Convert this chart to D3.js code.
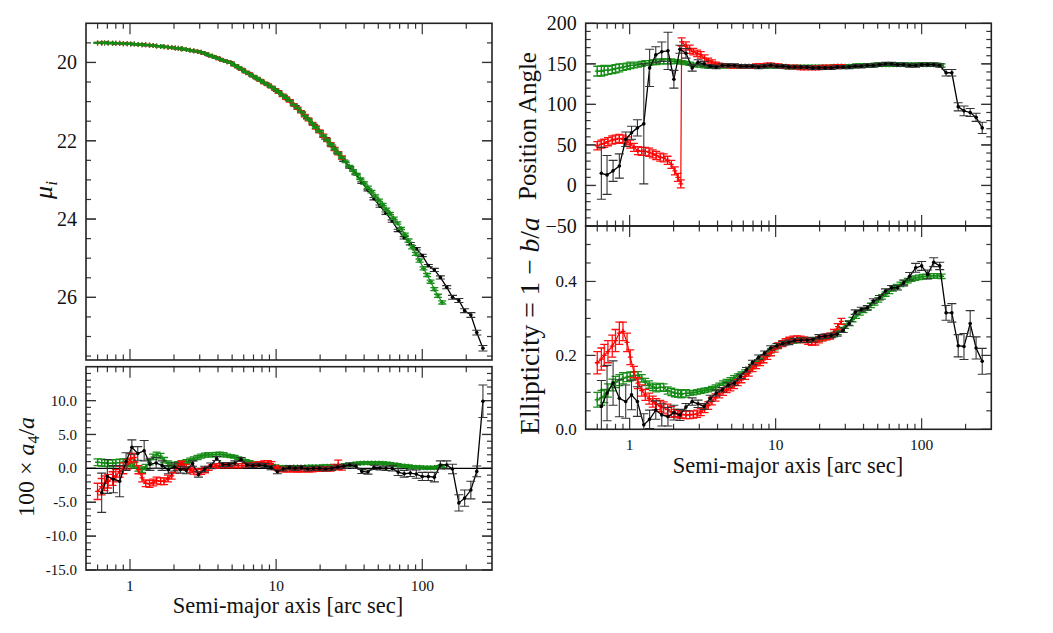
<!DOCTYPE html>
<html>
  <head>
    <meta charset="UTF-8" />
    <style>
      body { margin: 0; background: #fff; }
      svg text { font-family: "Liberation Serif", "Times New Roman", Times, "DejaVu Serif", serif; fill: #111; }
    </style>
  </head>
  <body>
    <svg width="1053" height="633" font-family="Liberation Serif, Times New Roman, serif"></svg>
    <script src="https://d3js.org/d3.v7.min.js"></script>
    <script>
      // radii (arc sec) of the densely sampled profiles (red, green)
      const fineRadii = [0.60,0.64,0.67,0.71,0.76,0.80,0.85,0.90,0.96,1.01,
        1.07,1.14,1.21,1.28,1.36,1.44,1.52,1.62,1.71,1.82,
        1.93,2.04,2.14,2.24,2.27,2.43,2.58,2.73,2.90,3.07,
        3.26,3.45,3.66,3.88,4.11,4.36,4.62,4.90,5.19,5.50,
        5.83,6.18,6.55,6.95,7.36,7.81,8.27,8.77,9.30,9.86,
        10.4,11.1,11.7,12.4,13.2,14.0,14.8,15.7,16.7,17.7,
        18.7,19.8,21.0,22.3,23.6,25.1,26.6,28.2,29.9,31.7,
        33.6,35.6,37.7,40.0,42.4,44.9,47.6,50.5,53.5,56.7,
        60.1,63.7,67.5,71.6,75.9,80.4,85.3,90.4,95.8,102,
        108,114,121,128,137];
      // radii of the black profile
      const blackRadii = [0.64,0.70,0.77,0.85,0.94,1.03,1.13,1.25,1.37,1.51,
        1.66,1.83,2.01,2.21,2.43,2.68,2.94,3.24,3.56,3.92,
        4.31,4.74,5.22,5.74,6.31,6.94,7.64,8.40,9.24,10.2,
        11.2,12.3,13.5,14.9,16.4,18.0,19.8,21.8,24.0,26.4,
        29.0,31.9,35.1,38.6,42.5,46.7,51.4,56.5,62.2,68.4,
        75.2,82.8,91.0,100,110,121,133,147,161,178,
        195,215,236,260];

      // surface brightness mu_i
      const muRed = [19.50,19.50,19.50,19.50,19.51,19.51,19.51,19.52,19.52,19.53,
        19.53,19.54,19.55,19.55,19.56,19.57,19.58,19.59,19.60,19.61,
        19.62,19.63,19.64,19.65,19.65,19.67,19.69,19.70,19.72,19.74,
        19.77,19.81,19.84,19.88,19.91,19.95,19.98,20.01,20.07,20.12,
        20.18,20.24,20.29,20.35,20.40,20.46,20.52,20.57,20.63,20.69,
        20.76,20.84,20.91,20.98,21.08,21.17,21.26,21.36,21.46,21.56,
        21.66,21.76,21.87,21.98,22.09,22.21,22.32,22.43];
      const muRedErr = [0.01,0.01,0.01,0.01,0.01,0.01,0.01,0.01,0.01,0.01,
        0.01,0.01,0.01,0.01,0.01,0.01,0.01,0.01,0.01,0.01,
        0.01,0.01,0.01,0.01,0.01,0.01,0.01,0.01,0.01,0.01,
        0.015,0.015,0.015,0.015,0.015,0.015,0.015,0.015,0.015,0.015,
        0.02,0.02,0.02,0.02,0.02,0.02,0.02,0.02,0.02,0.02,
        0.03,0.03,0.03,0.03,0.03,0.03,0.03,0.03,0.03,0.03,
        0.04,0.04,0.04,0.04,0.04,0.04,0.04,0.04];
      const muGreen = [19.50,19.50,19.50,19.50,19.51,19.51,19.51,19.52,19.52,19.53,
        19.53,19.54,19.55,19.55,19.56,19.57,19.58,19.59,19.60,19.61,
        19.62,19.63,19.64,19.65,19.65,19.67,19.69,19.70,19.72,19.74,
        19.77,19.81,19.84,19.88,19.91,19.95,19.98,20.01,20.07,20.12,
        20.18,20.24,20.29,20.35,20.40,20.46,20.52,20.57,20.63,20.69,
        20.76,20.84,20.91,20.98,21.08,21.17,21.26,21.36,21.46,21.56,
        21.66,21.76,21.87,21.98,22.09,22.21,22.32,22.43,22.54,22.65,
        22.76,22.86,22.97,23.08,23.19,23.30,23.41,23.52,23.63,23.75,
        23.86,23.98,24.10,24.24,24.39,24.55,24.72,24.89,25.06,25.26,
        25.43,25.60,25.79,25.96,26.13];
      const muGreenErr = [0.01,0.01,0.01,0.01,0.01,0.01,0.01,0.01,0.01,0.01,
        0.01,0.01,0.01,0.01,0.01,0.01,0.01,0.01,0.01,0.01,
        0.01,0.01,0.01,0.01,0.01,0.01,0.01,0.01,0.01,0.01,
        0.01,0.01,0.01,0.01,0.01,0.01,0.01,0.01,0.01,0.01,
        0.01,0.01,0.01,0.01,0.01,0.01,0.01,0.01,0.01,0.01,
        0.01,0.01,0.01,0.01,0.01,0.01,0.01,0.01,0.01,0.01,
        0.02,0.02,0.02,0.02,0.02,0.02,0.02,0.02,0.02,0.02,
        0.02,0.02,0.02,0.03,0.03,0.03,0.03,0.03,0.03,0.03,
        0.03,0.03,0.03,0.03,0.03,0.04,0.04,0.04,0.04,0.04,
        0.04,0.04,0.04,0.04,0.04];
      const muBlack = [19.50,19.50,19.51,19.51,19.52,19.53,19.54,19.55,19.56,19.58,
        19.59,19.61,19.63,19.65,19.67,19.70,19.73,19.77,19.83,19.88,
        19.94,19.99,20.07,20.16,20.26,20.35,20.44,20.53,20.62,20.73,
        20.85,20.97,21.11,21.27,21.43,21.59,21.76,21.94,22.13,22.31,
        22.51,22.68,22.85,23.07,23.26,23.48,23.67,23.85,24.05,24.29,
        24.48,24.63,24.76,24.93,25.19,25.30,25.49,25.74,26.00,26.08,
        26.34,26.45,26.90,27.30];
      const muBlackErr = [0.01,0.01,0.01,0.01,0.01,0.01,0.01,0.01,0.01,0.01,
        0.01,0.01,0.01,0.01,0.01,0.01,0.01,0.01,0.01,0.01,
        0.01,0.01,0.01,0.01,0.01,0.01,0.01,0.01,0.01,0.01,
        0.01,0.01,0.01,0.01,0.01,0.01,0.02,0.02,0.02,0.02,
        0.02,0.02,0.02,0.02,0.02,0.03,0.03,0.03,0.03,0.03,
        0.03,0.03,0.03,0.03,0.03,0.04,0.04,0.04,0.05,0.05,
        0.05,0.06,0.06,0.07];

      // 100 x a4/a
      const a4Red = [-3.4,-2.7,-2.2,-1.9,-1.5,-1.1,-0.5,0.0,0.6,1.5,
        1.6,-0.2,-1.4,-2.2,-2.3,-2.1,-1.8,-1.9,-1.9,-1.5,
        -1.1,-0.3,0.3,0.6,0.65,0.2,-0.2,-0.45,-0.55,-0.5,
        -0.25,0.0,0.25,0.35,0.4,0.4,0.4,0.4,0.4,0.4,
        0.4,0.45,0.5,0.5,0.6,0.7,0.8,0.85,0.7,0.1,
        -0.1,-0.2,-0.2,-0.2,-0.2,-0.25,-0.2,-0.2,-0.2,-0.2,
        -0.15,-0.15,-0.1,-0.05,-0.1,0.2,0.5,0.15];
      const a4RedErr = [1.2,1.2,1.1,1.0,1.0,0.9,0.8,0.8,0.7,0.7,
        0.6,0.6,0.6,0.5,0.5,0.5,0.5,0.5,0.5,0.5,
        0.5,0.4,0.4,0.4,0.4,0.4,0.4,0.4,0.4,0.4,
        0.4,0.3,0.3,0.3,0.3,0.3,0.3,0.3,0.3,0.3,
        0.3,0.3,0.3,0.3,0.3,0.3,0.3,0.3,0.3,0.3,
        0.3,0.3,0.3,0.3,0.3,0.3,0.3,0.3,0.3,0.3,
        0.3,0.3,0.3,0.3,0.3,0.4,0.7,0.4];
      const a4Green = [0.9,0.85,0.8,0.75,0.75,0.8,0.85,0.9,0.9,0.75,
        0.45,0.0,-0.2,0.2,0.9,1.7,2.0,1.8,1.2,0.7,
        0.5,0.55,0.7,0.8,0.85,1.0,1.2,1.4,1.6,1.8,
        1.95,2.0,2.0,2.05,2.1,2.0,1.9,1.8,1.7,1.5,
        1.35,1.1,0.95,0.8,0.7,0.6,0.55,0.45,0.35,0.3,
        0.2,0.15,0.15,0.15,0.2,0.2,0.2,0.2,0.25,0.25,
        0.25,0.25,0.3,0.3,0.3,0.3,0.35,0.4,0.5,0.55,
        0.6,0.7,0.75,0.8,0.8,0.8,0.8,0.8,0.75,0.7,
        0.65,0.55,0.5,0.4,0.35,0.3,0.2,0.15,0.15,0.1,
        0.1,0.1,0.1,0.2,0.3];
      const a4GreenErr = [0.5,0.5,0.5,0.5,0.5,0.5,0.5,0.5,0.5,0.5,
        0.4,0.4,0.4,0.4,0.4,0.4,0.4,0.4,0.4,0.4,
        0.4,0.3,0.3,0.3,0.3,0.3,0.3,0.3,0.3,0.3,
        0.3,0.3,0.3,0.3,0.3,0.3,0.2,0.2,0.2,0.2,
        0.2,0.2,0.2,0.2,0.2,0.2,0.2,0.2,0.2,0.2,
        0.2,0.2,0.2,0.2,0.2,0.2,0.2,0.2,0.2,0.2,
        0.2,0.2,0.2,0.2,0.2,0.2,0.2,0.2,0.2,0.2,
        0.2,0.2,0.2,0.2,0.2,0.2,0.2,0.2,0.2,0.2,
        0.2,0.2,0.2,0.2,0.2,0.2,0.2,0.2,0.2,0.2,
        0.2,0.2,0.2,0.2,0.2];
      const a4Black = [-3.6,-1.2,-1.6,-1.9,1.0,3.1,2.2,2.6,0.6,0.8,
        0.4,-0.2,0.2,-0.2,-0.3,0.7,-0.9,-0.1,0.4,1.45,
        0.55,0.55,0.8,1.3,0.5,0.4,0.5,0.4,0.1,-0.5,
        -0.1,0.1,0.0,0.1,-0.1,0.0,0.0,-0.1,0.0,0.2,
        0.3,0.5,0.3,-0.45,-0.55,0.15,0.05,0.0,0.0,-0.55,
        -0.8,-0.7,-0.85,-1.2,-1.2,-1.3,0.5,0.5,-0.1,-5.1,
        -4.4,-3.2,-0.45,9.9];
      const a4BlackErr = [2.9,2.5,2.0,2.3,1.3,1.1,1.0,1.5,0.9,0.8,
        0.7,0.6,0.6,0.5,0.5,0.4,0.4,0.4,0.4,0.3,
        0.3,0.3,0.3,0.3,0.3,0.3,0.3,0.3,0.3,0.3,
        0.3,0.3,0.3,0.3,0.3,0.3,0.3,0.3,0.3,0.3,
        0.3,0.3,0.3,0.3,0.3,0.3,0.3,0.3,0.4,0.5,
        0.5,0.5,0.6,0.6,0.6,0.7,0.6,0.6,0.7,1.2,
        1.2,1.3,0.8,2.4];

      // position angle
      const paRed = [49,51,52,54,56,57,58,57,55,51,
        47,43,42,42,41,39,37,35,34,31,
        26,18,10,2,177,172,168,165,163,161,
        157,154,152,150,149,148,148,147,147,147,
        147,147,147,147,148,148,148,149,149,148,
        148,147,147,146,146,146,145,145,145,145,
        145,145,146,146,146,146,147,147];
      const paRedErr = [5,5,5,5,5,5,5,5,5,5,
        5,5,5,5,5,5,5,5,5,5,
        5,5,5,5,5,5,5,4,4,4,
        4,3,3,2,2,2,2,2,2,2,
        2,2,2,2,2,2,2,2,2,2,
        2,2,2,2,2,2,2,2,2,2,
        2,2,2,2,2,2,2,2];
      const paGreen = [141,141,142,142,143,144,145,146,147,148,
        148,149,150,151,151,152,152,153,153,153,
        153,153,153,152,152,151,150,149,148,148,
        147,147,147,147,147,147,147,147,147,147,
        147,147,147,147,147,147,147,147,147,147,
        147,147,146,146,146,146,146,146,146,146,
        146,146,146,146,146,147,147,147,147,147,
        147,148,148,148,148,148,149,149,149,149,
        149,149,149,149,149,149,149,149,149,149,
        149,149,149,149,148];
      const paGreenErr = [6,6,6,5,5,5,5,4,4,4,
        3,3,3,3,3,3,3,3,3,3,
        3,2,2,2,2,2,2,2,2,2,
        2,2,2,2,2,2,2,2,2,2,
        2,2,2,2,2,2,2,2,2,2,
        2,2,2,2,2,2,2,2,2,2,
        2,2,2,2,2,2,2,2,2,2,
        2,2,2,2,2,2,2,2,2,2,
        2,2,2,2,2,2,2,2,2,2,
        2,2,2,2,2];
      const paBlack = [15,13,18,24,57,65,71,76,145,161,
        165,166,131,168,163,145,152,150,147,146,
        148,148,148,147,147,147,146,147,148,147,
        147,146,146,146,146,145,145,145,145,146,
        146,146,147,147,148,148,149,150,150,149,
        149,148,148,149,149,149,148,139,139,97,
        92,90,84,71];
      const paBlackErr = [32,24,13,15,9,8,10,74,23,10,
        12,23,11,5,6,4,3,3,2,2,
        2,2,2,2,2,2,2,2,2,2,
        2,2,2,2,2,2,2,2,2,2,
        2,2,2,2,2,2,2,2,2,2,
        2,2,2,2,2,2,2,4,4,5,
        6,5,5,7];

      // ellipticity 1 - b/a
      const ellRed = [0.18,0.19,0.20,0.21,0.225,0.24,0.26,0.265,0.235,0.195,
        0.155,0.125,0.105,0.093,0.083,0.075,0.068,0.063,0.059,0.053,
        0.047,0.044,0.041,0.040,0.040,0.039,0.039,0.040,0.042,0.047,
        0.055,0.064,0.076,0.086,0.095,0.102,0.107,0.112,0.118,0.126,
        0.134,0.143,0.152,0.164,0.172,0.180,0.188,0.197,0.207,0.217,
        0.226,0.232,0.237,0.241,0.244,0.245,0.244,0.242,0.238,0.235,
        0.236,0.242,0.247,0.250,0.252,0.262,0.278,0.292];
      const ellRedErr = [0.03,0.03,0.03,0.03,0.03,0.03,0.03,0.025,0.025,0.02,
        0.015,0.015,0.015,0.015,0.015,0.015,0.015,0.015,0.015,0.015,
        0.015,0.01,0.01,0.01,0.01,0.01,0.01,0.01,0.01,0.01,
        0.01,0.01,0.01,0.01,0.01,0.01,0.008,0.008,0.008,0.008,
        0.008,0.008,0.008,0.008,0.008,0.008,0.008,0.008,0.008,0.008,
        0.008,0.008,0.008,0.008,0.008,0.008,0.008,0.008,0.008,0.008,
        0.008,0.008,0.008,0.008,0.008,0.008,0.008,0.008];
      const ellGreen = [0.08,0.085,0.09,0.105,0.12,0.128,0.133,0.138,0.141,0.143,
        0.146,0.146,0.138,0.128,0.121,0.115,0.111,0.114,0.113,0.105,
        0.101,0.098,0.097,0.096,0.096,0.097,0.098,0.099,0.101,0.103,
        0.105,0.107,0.11,0.114,0.119,0.125,0.129,0.134,0.139,0.144,
        0.149,0.155,0.162,0.17,0.178,0.186,0.195,0.204,0.213,0.221,
        0.227,0.232,0.235,0.237,0.239,0.24,0.241,0.241,0.241,0.241,
        0.242,0.244,0.246,0.249,0.252,0.256,0.262,0.27,0.279,0.288,
        0.297,0.306,0.315,0.322,0.328,0.335,0.342,0.35,0.358,0.366,
        0.373,0.38,0.386,0.392,0.397,0.402,0.406,0.409,0.411,0.413,
        0.414,0.415,0.415,0.415,0.414];
      const ellGreenErr = [0.02,0.02,0.018,0.018,0.016,0.015,0.015,0.015,0.012,0.012,
        0.01,0.01,0.01,0.01,0.01,0.01,0.01,0.01,0.01,0.01,
        0.01,0.01,0.01,0.01,0.01,0.01,0.006,0.006,0.006,0.006,
        0.006,0.006,0.006,0.006,0.006,0.006,0.006,0.006,0.006,0.006,
        0.006,0.006,0.006,0.006,0.006,0.006,0.006,0.006,0.006,0.006,
        0.006,0.006,0.006,0.006,0.006,0.006,0.006,0.006,0.006,0.006,
        0.006,0.006,0.006,0.006,0.006,0.006,0.006,0.006,0.006,0.006,
        0.006,0.006,0.006,0.006,0.006,0.006,0.006,0.006,0.006,0.006,
        0.006,0.006,0.006,0.006,0.006,0.006,0.006,0.006,0.006,0.006,
        0.006,0.006,0.006,0.006,0.006];
      const ellBlack = [0.062,0.098,0.125,0.084,0.075,0.093,0.075,0.012,0.027,0.052,
        0.039,0.034,0.045,0.039,0.06,0.075,0.069,0.062,0.084,0.098,
        0.107,0.12,0.125,0.143,0.161,0.181,0.195,0.206,0.22,0.226,
        0.232,0.235,0.24,0.241,0.241,0.243,0.25,0.252,0.254,0.258,
        0.268,0.286,0.317,0.324,0.329,0.347,0.356,0.374,0.383,0.383,
        0.396,0.414,0.437,0.442,0.419,0.452,0.442,0.315,0.315,0.226,
        0.224,0.286,0.22,0.184];
      const ellBlackErr = [0.07,0.075,0.06,0.05,0.045,0.04,0.04,0.03,0.025,0.025,
        0.03,0.025,0.02,0.015,0.01,0.01,0.01,0.008,0.008,0.008,
        0.006,0.006,0.006,0.006,0.006,0.006,0.006,0.006,0.006,0.006,
        0.006,0.006,0.006,0.006,0.006,0.006,0.006,0.006,0.006,0.006,
        0.006,0.006,0.006,0.006,0.006,0.006,0.006,0.006,0.006,0.006,
        0.008,0.01,0.012,0.012,0.012,0.012,0.01,0.02,0.025,0.03,
        0.035,0.035,0.03,0.035];

      // tick labels
      const xTicks = [1, 10, 100];
      const xTickLabels = ["1", "10", "100"];
      const muTicks = [20, 22, 24, 26];
      const muTickLabels = ["20", "22", "24", "26"];
      const a4Ticks = [10, 5, 0, -5, -10, -15];
      const a4TickLabels = ["10.0", "5.0", "0.0", "-5.0", "-10.0", "-15.0"];
      const paTicks = [200, 150, 100, 50, 0, -50];
      const paTickLabels = ["200", "150", "100", "50", "0", "\u221250"];
      const ellTicks = [0, 0.2, 0.4];
      const ellTickLabels = ["0.0", "0.2", "0.4"];

      const RED = "#ff0000", GREEN = "#138a13", BLACK = "#000";
      const SERIF = '"Liberation Serif", "Times New Roman", Times, "DejaVu Serif", serif';
      let svg = d3.select("svg");
      svg.append("rect").attr("width", 1053).attr("height", 633).attr("fill", "#fff");

      const xMinor = [0.6,0.7,0.8,0.9,2,3,4,5,6,7,8,9,20,30,40,50,60,70,80,90,200];

      function makePanel(p) {
        let x = d3.scaleLog().domain([0.5, 300]).range([p.left, p.right]);
        let y = d3.scaleLinear().domain(p.yDomain).range([p.top, p.bottom]);
        let g = svg.append("g").attr("id", p.id);
        g.append("clipPath").attr("id", "clip-" + p.id).append("rect")
          .attr("x", p.left).attr("y", p.top)
          .attr("width", p.right - p.left).attr("height", p.bottom - p.top);

        let ticks = g.append("g").attr("stroke", "#333").attr("stroke-width", 1.2);
        // x ticks, inward on top and bottom
        xTicks.concat(xMinor).forEach((v) => {
          let len = xTicks.includes(v) ? 11 : 5.5;
          let xv = x(v);
          ticks.append("line").attr("x1", xv).attr("x2", xv).attr("y1", p.bottom).attr("y2", p.bottom - len);
          ticks.append("line").attr("x1", xv).attr("x2", xv).attr("y1", p.top).attr("y2", p.top + len);
        });
        // y ticks, inward on left and right
        p.minor.concat(p.ticks).forEach((v) => {
          let len = p.ticks.includes(v) ? 10 : 5;
          let yv = y(v);
          if (yv < p.top - 0.5 || yv > p.bottom + 0.5) return;
          ticks.append("line").attr("x1", p.left).attr("x2", p.left + len).attr("y1", yv).attr("y2", yv);
          ticks.append("line").attr("x1", p.right).attr("x2", p.right - len).attr("y1", yv).attr("y2", yv);
        });
        // y tick labels
        g.append("g").selectAll("text").data(p.ticks).join("text")
          .attr("x", p.left - 9)
          .attr("y", (d) => y(d) + p.labelSize * 0.34)
          .attr("text-anchor", "end")
          .style("font-family", SERIF)
          .style("font-size", p.labelSize + "px")
          .text((d, i) => p.labels[i]);
        // x tick labels
        if (p.xLabels) {
          g.append("g").selectAll("text").data(xTicks).join("text")
            .attr("x", (d) => x(d))
            .attr("y", p.bottom + 21)
            .attr("text-anchor", "middle")
            .style("font-family", SERIF)
            .style("font-size", "15.5px")
            .text((d, i) => xTickLabels[i]);
        }
        let plot = g.append("g").attr("clip-path", "url(#clip-" + p.id + ")");
        g.append("rect")
          .attr("x", p.left).attr("y", p.top)
          .attr("width", p.right - p.left).attr("height", p.bottom - p.top)
          .attr("fill", "none").attr("stroke", "#222").attr("stroke-width", 1.6);
        return { x, y, plot };
      }

      function drawSeries(panel, radii, vals, errs, color, opt) {
        let pts = vals.map((v, i) => ({ r: radii[i], v: v, e: errs[i] }));
        let g = panel.plot.append("g");
        g.append("path").datum(pts)
          .attr("fill", "none").attr("stroke", color).attr("stroke-width", opt.lw)
          .attr("d", d3.line().x((d) => panel.x(d.r)).y((d) => panel.y(d.v)));
        g.append("g").selectAll("path").data(pts).join("path")
          .attr("fill", "none")
          .attr("stroke", opt.errColor)
          .attr("stroke-width", opt.ew)
          .attr("d", (d) => {
            let cx = panel.x(d.r), c = opt.cap;
            let y1 = panel.y(d.v - d.e), y2 = panel.y(d.v + d.e);
            return `M${cx},${y1}V${y2}M${cx - c},${y1}H${cx + c}M${cx - c},${y2}H${cx + c}`;
          });
        if (opt.dot) {
          g.append("g").selectAll("circle").data(pts).join("circle")
            .attr("cx", (d) => panel.x(d.r)).attr("cy", (d) => panel.y(d.v))
            .attr("r", opt.dot).attr("fill", color);
        } else {
          g.append("g").selectAll("path").data(pts).join("path")
            .attr("stroke", color).attr("stroke-width", 1.3)
            .attr("d", (d) => {
              let cx = panel.x(d.r), cy = panel.y(d.v);
              return `M${cx - 2.5},${cy}H${cx + 2.5}M${cx},${cy - 2.5}V${cy + 2.5}`;
            });
        }
      }

      const redOpt = { lw: 1.2, errColor: "#ff1010", ew: 1.3, cap: 4 };
      const greenOpt = { lw: 1.2, errColor: "#1a8f1a", ew: 1.3, cap: 4 };
      const blackOpt = { lw: 1.3, errColor: "#333", ew: 1.1, cap: 4.5, dot: 1.8 };

      // left top: surface brightness
      let pMu = makePanel({
        id: "mu", left: 86, right: 492, top: 23.3, bottom: 360,
        yDomain: [19, 27.6], ticks: muTicks, labels: muTickLabels,
        minor: d3.range(19.5, 27.6, 0.5), labelSize: 20, xLabels: false,
      });
      drawSeries(pMu, blackRadii, muBlack, muBlackErr, BLACK, blackOpt);
      drawSeries(pMu, fineRadii, muRed, muRedErr, RED, redOpt);
      drawSeries(pMu, fineRadii, muGreen, muGreenErr, GREEN, greenOpt);

      // left bottom: a4
      let pA4 = makePanel({
        id: "a4", left: 86, right: 492, top: 366.7, bottom: 570,
        yDomain: [15, -15], ticks: a4Ticks, labels: a4TickLabels,
        minor: d3.range(-14, 15, 1), labelSize: 15, xLabels: true,
      });
      pA4.plot.append("line")
        .attr("x1", 86).attr("x2", 492).attr("y1", pA4.y(0)).attr("y2", pA4.y(0))
        .attr("stroke", "#000").attr("stroke-width", 1.2);
      drawSeries(pA4, fineRadii, a4Green, a4GreenErr, GREEN, greenOpt);
      drawSeries(pA4, fineRadii, a4Red, a4RedErr, RED, redOpt);
      drawSeries(pA4, blackRadii, a4Black, a4BlackErr, BLACK, blackOpt);

      // right top: position angle
      let pPa = makePanel({
        id: "pa", left: 585.7, right: 991.3, top: 23.3, bottom: 226,
        yDomain: [200, -50], ticks: paTicks, labels: paTickLabels,
        minor: d3.range(-40, 200, 10), labelSize: 20, xLabels: false,
      });
      drawSeries(pPa, fineRadii, paGreen, paGreenErr, GREEN, greenOpt);
      drawSeries(pPa, fineRadii, paRed, paRedErr, RED, redOpt);
      drawSeries(pPa, blackRadii, paBlack, paBlackErr, BLACK, blackOpt);

      // right bottom: ellipticity
      let pEll = makePanel({
        id: "ell", left: 585.7, right: 991.3, top: 226, bottom: 429.3,
        yDomain: [0.55, 0], ticks: ellTicks, labels: ellTickLabels,
        minor: [0.05, 0.1, 0.15, 0.25, 0.3, 0.35, 0.45, 0.5], labelSize: 17, xLabels: true,
      });
      drawSeries(pEll, fineRadii, ellGreen, ellGreenErr, GREEN, greenOpt);
      drawSeries(pEll, fineRadii, ellRed, ellRedErr, RED, redOpt);
      drawSeries(pEll, blackRadii, ellBlack, ellBlackErr, BLACK, blackOpt);

      // axis titles
      function title(t, size) {
        return t.style("font-family", SERIF).style("font-size", size + "px");
      }
      title(svg.append("text").attr("x", 288).attr("y", 613).attr("text-anchor", "middle"), 22.5)
        .text("Semi-major axis [arc sec]");
      title(svg.append("text").attr("x", 788).attr("y", 473).attr("text-anchor", "middle"), 22.5)
        .text("Semi-major axis [arc sec]");

      let muLab = title(svg.append("text").attr("transform", "translate(52,190) rotate(-90)")
        .attr("text-anchor", "middle"), 26);
      muLab.append("tspan").style("font-style", "italic").text("\u03bc");
      muLab.append("tspan").attr("dy", 5).style("font-style", "italic").style("font-size", "17px").text("i");

      let a4Lab = title(svg.append("text").attr("transform", "translate(34,467) rotate(-90)")
        .attr("text-anchor", "middle"), 24);
      a4Lab.append("tspan").text("100 \u00d7 ");
      a4Lab.append("tspan").style("font-style", "italic").text("a");
      a4Lab.append("tspan").attr("dy", 5).style("font-size", "16px").text("4");
      a4Lab.append("tspan").attr("dy", -5).text("/");
      a4Lab.append("tspan").style("font-style", "italic").text("a");

      title(svg.append("text").attr("transform", "translate(536,126) rotate(-90)")
        .attr("text-anchor", "middle"), 25).text("Position Angle");

      let ellLab = title(svg.append("text").attr("transform", "translate(539,326) rotate(-90)")
        .attr("text-anchor", "middle"), 27.5);
      ellLab.append("tspan").text("Ellipticity = 1 \u2212 ");
      ellLab.append("tspan").style("font-style", "italic").text("b");
      ellLab.append("tspan").text("/");
      ellLab.append("tspan").style("font-style", "italic").text("a");
    </script>
  </body>
</html>
